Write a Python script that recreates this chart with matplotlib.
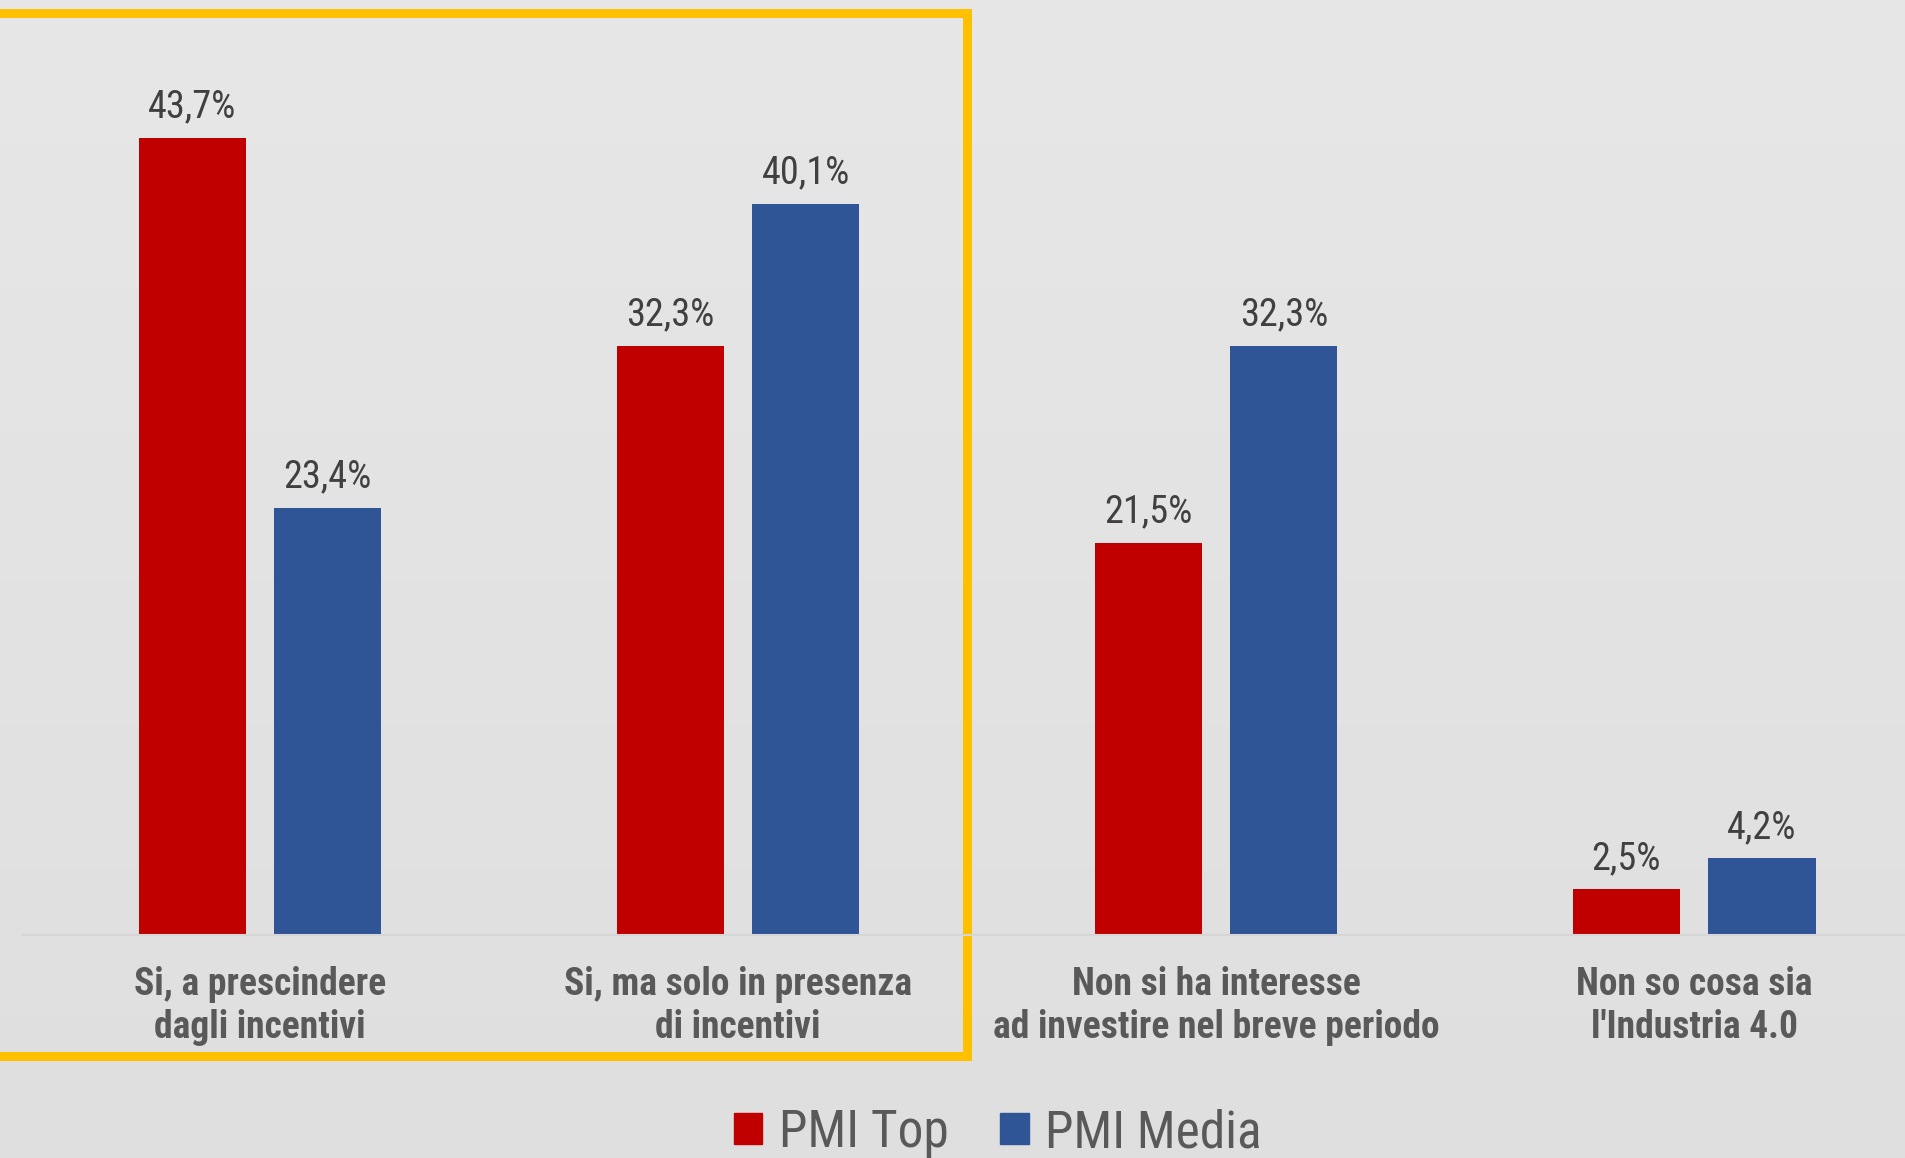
import numpy as np
import matplotlib.pyplot as plt
from matplotlib.patches import Patch, Rectangle
from matplotlib.colors import LinearSegmentedColormap

# Dati del grafico
categorie = [
    "Si, a prescindere\ndagli incentivi",
    "Si, ma solo in presenza\ndi incentivi",
    "Non si ha interesse\nad investire nel breve periodo",
    "Non so cosa sia\nl'Industria 4.0",
]
serie = ["PMI Top", "PMI Media"]
pmi_top = [43.7, 32.3, 21.5, 2.5]
pmi_media = [23.4, 40.1, 32.3, 4.2]

rosso = "#C00000"
blu = "#2F5597"
font = ["Roboto Condensed", "Liberation Sans Narrow", "Roboto", "DejaVu Sans"]
plt.rcParams["font.family"] = font

fig = plt.figure(figsize=(19.06, 11.58), dpi=100)

# Sfondo grigio sfumato
sfondo = fig.add_axes([0, 0, 1, 1], zorder=-2)
sfumatura = np.linspace(0, 1, 256).reshape(-1, 1)
cmap = LinearSegmentedColormap.from_list("bg", ["#e7e7e7", "#dfdfdf"])
sfondo.imshow(sfumatura, aspect="auto", cmap=cmap, extent=(0, 1, 0, 1))
sfondo.axis("off")

ax = fig.add_axes([0, 0.1926, 1, 0.8074])
ax.patch.set_alpha(0)

x = np.arange(len(categorie))
larghezza = 0.224
scarto = 0.1418
b1 = ax.bar(x - scarto, pmi_top, larghezza, color=rosso, label=serie[0])
b2 = ax.bar(x + scarto, pmi_media, larghezza, color=blu, label=serie[1])

for barre, valori in [(b1, pmi_top), (b2, pmi_media)]:
    etichette = [f"{v:.1f}%".replace(".", ",") for v in valori]
    ax.bar_label(barre, labels=etichette, padding=9, fontsize=27.5, color="#404040")

ax.set_xlim(-0.544, 3.443)
ax.set_ylim(0, 51.26)
ax.set_yticks([])
ax.set_xticks(x)
ax.set_xticklabels(categorie, fontsize=27, fontweight="bold", color="#595959",
                   linespacing=1.22)
ax.tick_params(axis="x", length=0, pad=22)
for lato in ["top", "left", "right"]:
    ax.spines[lato].set_visible(False)
ax.spines["bottom"].set_color("#d6d6d6")
ax.spines["bottom"].set_linewidth(1.5)
ax.spines["bottom"].set_bounds(-0.498, 3.443)

# Riquadro giallo
riquadro = Rectangle((-10 / 1906, 0.0881), 977 / 1906, 0.9011,
                     transform=fig.transFigure, fill=False,
                     edgecolor="#FFC000", linewidth=6.5, zorder=-1)
fig.patches.append(riquadro)

maniglie = [Patch(color=rosso, label=serie[0]), Patch(color=blu, label=serie[1])]
fig.legend(handles=maniglie, loc="lower center", bbox_to_anchor=(998 / 1906, -0.040),
           ncol=2, frameon=False, fontsize=37, handlelength=0.55, handleheight=0.55,
           handletextpad=0.33, columnspacing=1.0, labelcolor="#595959")

fig.savefig("out.png", dpi=100)
